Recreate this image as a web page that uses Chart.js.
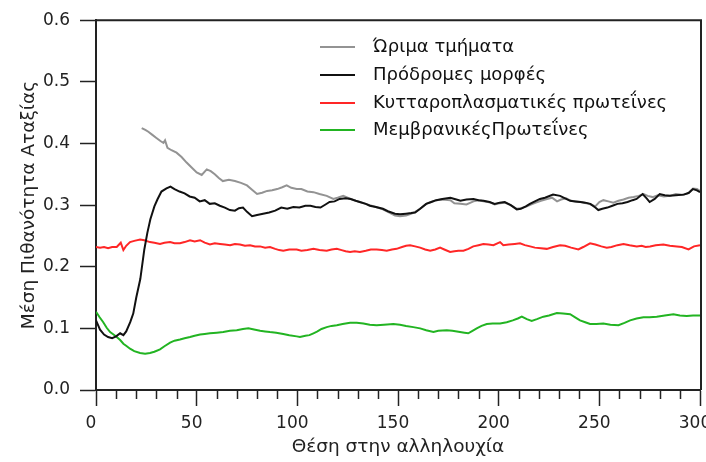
<!DOCTYPE html>
<html>
<head>
<meta charset="utf-8">
<script src="https://cdn.jsdelivr.net/npm/chart.js@4.4.0/dist/chart.umd.min.js"></script>
<style>
html, body { margin: 0; padding: 0; background: #fff; }
</style>
</head>
<body>
<canvas id="chart" width="706" height="462"></canvas>
<script>
// Series labels (legend order)
const seriesNames = ["Ώριμα τμήματα", "Πρόδρομες μορφές", "Κυτταροπλασματικές πρωτεΐνες", "ΜεμβρανικέςΠρωτεΐνες"];
const seriesColors = ["#939393", "#111111", "#ff2626", "#22b422"];

// Ώριμα τμήματα
const matureX = [22.7, 24.5, 26, 28, 30, 32, 33.5, 34.3, 35.5, 37.5, 40, 42.5, 45, 47.5, 50, 52.5, 55, 57, 59, 61, 63, 66, 69, 72, 75, 77.5, 80, 82.5, 85, 87.5, 90, 92.5, 94.7, 97, 99.7, 102, 105, 108, 111, 114.6, 117.9, 120, 122.8, 125, 128, 131, 134, 136, 139, 142.5, 145, 148.5, 151, 154, 156.5, 158.5, 161, 164, 166.5, 169, 172, 176, 178, 181, 184, 187.5, 190, 193, 196, 198, 200.5, 203, 206, 209, 211, 214, 216, 218.5, 221, 224, 226.5, 229, 231, 233.5, 236, 238.5, 241, 243.5, 246, 248, 250, 252, 254.5, 257, 259.5, 262, 264.5, 267, 269.5, 272, 274, 276.5, 279, 282, 285, 288, 291, 294, 296.5, 298.5, 300];
const matureY = [0.425, 0.422, 0.419, 0.414, 0.409, 0.404, 0.401, 0.405, 0.393, 0.389, 0.385, 0.378, 0.369, 0.361, 0.353, 0.349, 0.358, 0.355, 0.350, 0.344, 0.339, 0.341, 0.339, 0.336, 0.332, 0.325, 0.318, 0.320, 0.323, 0.324, 0.326, 0.329, 0.332, 0.328, 0.326, 0.326, 0.322, 0.321, 0.318, 0.315, 0.310, 0.312, 0.315, 0.312, 0.308, 0.305, 0.302, 0.300, 0.297, 0.293, 0.289, 0.283, 0.282, 0.283, 0.286, 0.289, 0.294, 0.302, 0.305, 0.308, 0.309, 0.308, 0.303, 0.302, 0.301, 0.306, 0.308, 0.306, 0.304, 0.301, 0.303, 0.304, 0.300, 0.294, 0.295, 0.298, 0.301, 0.304, 0.307, 0.310, 0.312, 0.306, 0.309, 0.311, 0.307, 0.306, 0.305, 0.303, 0.301, 0.298, 0.305, 0.308, 0.306, 0.304, 0.307, 0.309, 0.312, 0.313, 0.315, 0.318, 0.315, 0.313, 0.316, 0.314, 0.315, 0.318, 0.317, 0.319, 0.327, 0.326, 0.323];

// Πρόδρομες μορφές
const precursorX = [0, 2, 4, 6, 8, 10, 12, 13.6, 15, 17, 18.5, 20, 22, 24, 25.5, 27, 29, 30.5, 32.5, 35, 37, 39, 41.5, 44, 46.5, 49, 51.5, 54, 56.5, 59, 61.5, 64, 66.5, 69, 71, 73, 75, 77.5, 80, 83, 86, 89, 92, 95, 98, 101, 104, 106.5, 109, 111.5, 114, 116, 118.5, 121, 124, 126.5, 129, 131, 134, 136, 139, 142.5, 145, 148.5, 151, 154, 156.5, 158.5, 161, 164, 166.5, 169, 172, 176, 179, 181, 184, 187.5, 190, 192.5, 195.5, 198, 200.5, 203, 206, 209, 211, 213.5, 215.5, 218, 220.5, 223, 227, 230.5, 233, 235.5, 238, 240.5, 243, 245.5, 248, 249.5, 251.5, 254, 256.5, 259, 261.5, 264, 266.5, 268.5, 271.5, 273.5, 275, 277.5, 280, 282.5, 285, 288, 292, 294.5, 296.5, 298.5, 300];
const precursorY = [0.113, 0.098, 0.090, 0.086, 0.084, 0.087, 0.092, 0.089, 0.095, 0.110, 0.124, 0.150, 0.180, 0.228, 0.255, 0.277, 0.298, 0.309, 0.322, 0.327, 0.330, 0.326, 0.322, 0.319, 0.314, 0.312, 0.306, 0.308, 0.302, 0.303, 0.299, 0.296, 0.292, 0.291, 0.295, 0.296, 0.289, 0.282, 0.284, 0.286, 0.288, 0.291, 0.296, 0.294, 0.297, 0.296, 0.299, 0.299, 0.297, 0.296, 0.301, 0.305, 0.306, 0.310, 0.311, 0.310, 0.307, 0.305, 0.302, 0.299, 0.297, 0.294, 0.290, 0.286, 0.285, 0.286, 0.287, 0.288, 0.294, 0.302, 0.305, 0.308, 0.310, 0.312, 0.309, 0.307, 0.309, 0.310, 0.308, 0.307, 0.305, 0.302, 0.304, 0.305, 0.300, 0.293, 0.294, 0.298, 0.302, 0.306, 0.310, 0.312, 0.317, 0.315, 0.311, 0.307, 0.306, 0.305, 0.304, 0.302, 0.296, 0.292, 0.294, 0.296, 0.299, 0.302, 0.303, 0.305, 0.308, 0.310, 0.318, 0.311, 0.305, 0.310, 0.318, 0.316, 0.315, 0.316, 0.317, 0.320, 0.326, 0.324, 0.321];

// Κυτταροπλασματικές πρωτεΐνες
const cytoX = [0, 2, 4, 6, 8, 10.3, 12.3, 13.6, 15, 16.9, 19, 21.9, 24, 26.8, 29, 31.8, 34, 36.8, 39, 41.7, 44, 46.7, 49, 51.7, 54, 56.6, 59, 61.6, 64, 66.6, 69, 71.5, 74, 76.5, 79, 81.5, 84, 86.4, 89, 91, 93, 96, 99.7, 102, 105, 108, 111, 114.6, 117, 119.6, 122, 124, 126.2, 128.5, 131.1, 134, 136.5, 139.4, 142, 144.4, 147, 149.3, 152, 154, 156, 158.5, 161, 163.5, 166, 168.5, 170.9, 173, 175.9, 178, 180, 182.5, 185, 187.4, 190, 192.4, 195, 197.4, 200.7, 202.3, 205, 208, 210.6, 213, 215.6, 218, 221, 223.9, 227, 230.5, 233, 236, 239.6, 242, 245.4, 248, 251, 253.7, 256, 259, 262, 265, 268.6, 271, 273, 275.2, 278, 281.8, 285, 288.5, 291, 294.3, 297, 300];
const cytoY = [0.232, 0.231, 0.232, 0.230, 0.232, 0.232, 0.239, 0.227, 0.234, 0.240, 0.242, 0.244, 0.243, 0.240, 0.239, 0.237, 0.239, 0.240, 0.238, 0.238, 0.240, 0.243, 0.241, 0.243, 0.239, 0.236, 0.238, 0.237, 0.236, 0.235, 0.237, 0.236, 0.234, 0.235, 0.233, 0.233, 0.231, 0.232, 0.229, 0.227, 0.226, 0.228, 0.228, 0.226, 0.227, 0.229, 0.227, 0.226, 0.228, 0.229, 0.227, 0.225, 0.224, 0.225, 0.224, 0.226, 0.228, 0.228, 0.227, 0.226, 0.228, 0.229, 0.232, 0.234, 0.235, 0.233, 0.231, 0.228, 0.226, 0.228, 0.231, 0.228, 0.224, 0.225, 0.226, 0.226, 0.229, 0.233, 0.235, 0.237, 0.236, 0.235, 0.240, 0.235, 0.236, 0.237, 0.238, 0.235, 0.233, 0.231, 0.230, 0.229, 0.232, 0.235, 0.234, 0.231, 0.228, 0.232, 0.238, 0.236, 0.233, 0.231, 0.232, 0.235, 0.237, 0.235, 0.233, 0.234, 0.232, 0.233, 0.235, 0.236, 0.234, 0.233, 0.232, 0.228, 0.233, 0.235];

// ΜεμβρανικέςΠρωτεΐνες
const membX = [0, 1.8, 3.6, 5.3, 7, 8.7, 10.3, 12, 13.6, 15.3, 16.9, 19, 21.9, 24.4, 26.8, 29, 31.8, 34, 36.8, 39, 41.7, 44, 46.7, 49, 51.7, 54, 56.6, 60, 63.2, 66.5, 69.9, 73, 75.7, 78.5, 81.5, 84, 86.4, 89.5, 93, 96, 99.7, 101.3, 104, 106, 108, 110, 112, 114.6, 117, 119.6, 122.5, 126.2, 129.5, 132.8, 136, 139.4, 143, 147.7, 151, 154, 157.6, 161, 164, 167.6, 170, 174.2, 177, 180.8, 183, 184.9, 187, 189.1, 191.5, 194.1, 197, 200.7, 204, 207, 209.5, 211.5, 214, 216.4, 219, 222.2, 225, 228.9, 232, 235.5, 238, 240.4, 243, 245.4, 248.5, 252, 255.5, 259.5, 262.5, 265.3, 268.5, 271.9, 275, 278.5, 282.5, 286.8, 290, 293.4, 296.5, 300];
const membY = [0.127, 0.118, 0.110, 0.101, 0.094, 0.090, 0.086, 0.081, 0.075, 0.071, 0.067, 0.063, 0.060, 0.059, 0.060, 0.062, 0.066, 0.071, 0.077, 0.080, 0.082, 0.084, 0.086, 0.088, 0.090, 0.091, 0.092, 0.093, 0.094, 0.096, 0.097, 0.099, 0.100, 0.098, 0.096, 0.095, 0.094, 0.093, 0.091, 0.089, 0.087, 0.086, 0.088, 0.089, 0.092, 0.095, 0.099, 0.102, 0.104, 0.105, 0.107, 0.109, 0.109, 0.108, 0.106, 0.105, 0.106, 0.107, 0.106, 0.104, 0.102, 0.100, 0.097, 0.094, 0.096, 0.097, 0.096, 0.094, 0.093, 0.092, 0.096, 0.100, 0.104, 0.107, 0.108, 0.108, 0.110, 0.113, 0.116, 0.119, 0.115, 0.112, 0.115, 0.119, 0.121, 0.125, 0.124, 0.123, 0.118, 0.113, 0.110, 0.107, 0.107, 0.108, 0.106, 0.105, 0.109, 0.113, 0.116, 0.118, 0.118, 0.119, 0.121, 0.123, 0.121, 0.120, 0.121, 0.121];

const seriesX = [matureX, precursorX, cytoX, membX];
const seriesY = [matureY, precursorY, cytoY, membY];
const drawOrder = [1, 0, 2, 3];

const toPoints = (xs, ys) => xs.map((x, i) => ({ x: x, y: ys[i] }));

const FONT = "'DejaVu Sans', Verdana, sans-serif";
const AXIS = "#222";

// frame on top and right, minor x ticks, legend
const extras = {
    id: "extras",
    afterDraw(chart) {
        const ctx = chart.ctx;
        const a = chart.chartArea;
        const xs = chart.scales.x;
        ctx.save();
        ctx.strokeStyle = AXIS;
        ctx.lineWidth = 2;
        ctx.beginPath();
        ctx.moveTo(a.left, a.top);
        ctx.lineTo(a.right + 1, a.top);
        ctx.lineTo(a.right + 1, a.bottom);
        ctx.stroke();
        // minor ticks every 10
        ctx.lineWidth = 1.5;
        ctx.beginPath();
        for (let v = 10; v < 300; v += 10) {
            if (v % 50 === 0) continue;
            const px = Math.round(xs.getPixelForValue(v)) + 0.5;
            ctx.moveTo(px, a.bottom);
            ctx.lineTo(px, a.bottom + 9);
        }
        ctx.stroke();
        // legend
        ctx.font = "18px " + FONT;
        ctx.textBaseline = "middle";
        ctx.fillStyle = "#111";
        const rows = [47, 75, 103, 130];
        seriesNames.forEach((name, i) => {
            ctx.strokeStyle = seriesColors[i];
            ctx.lineWidth = 2;
            ctx.beginPath();
            ctx.moveTo(320, rows[i]);
            ctx.lineTo(355, rows[i]);
            ctx.stroke();
            ctx.fillText(name, 373, rows[i]);
        });
        ctx.restore();
    }
};

new Chart(document.getElementById("chart"), {
    type: "scatter",
    plugins: [extras],
    data: {
        datasets: seriesNames.map((name, i) => ({
            label: name,
            data: toPoints(seriesX[i], seriesY[i]),
            showLine: true,
            borderColor: seriesColors[i],
            borderWidth: 2,
            pointRadius: 0,
            tension: 0,
            order: drawOrder[i]
        }))
    },
    options: {
        responsive: false,
        animation: false,
        layout: { padding: { top: 19, right: 6, left: 0, bottom: 0 } },
        plugins: { legend: { display: false }, tooltip: { enabled: false } },
        scales: {
            x: {
                type: "linear",
                min: 0,
                max: 300,
                afterFit: (s) => { s.height = 72; s.paddingRight = 0; s.paddingLeft = 0; },
                border: { color: AXIS, width: 2 },
                grid: { drawOnChartArea: false, drawTicks: true, tickLength: 16, tickColor: AXIS, tickWidth: 1.5 },
                ticks: { stepSize: 50, color: "#222", padding: 7, labelOffset: -5, font: { family: FONT, size: 17 } },
                title: { display: true, text: "Θέση στην αλληλουχία", color: "#222", font: { family: FONT, size: 18.5 }, padding: { top: 0, bottom: 4 } }
            },
            y: {
                min: 0,
                max: 0.6,
                afterFit: (s) => { s.width = 96; },
                border: { color: AXIS, width: 2 },
                grid: { drawOnChartArea: false, drawTicks: true, tickLength: 16, tickColor: AXIS, tickWidth: 1.5 },
                ticks: { stepSize: 0.1, color: "#222", padding: 10, font: { family: FONT, size: 17 }, callback: (v) => v.toFixed(1) },
                title: { display: true, text: "Μέση Πιθανότητα Αταξίας", color: "#222", font: { family: FONT, size: 18.5 }, padding: { top: 18, bottom: 0 } }
            }
        }
    }
});
</script>
</body>
</html>
